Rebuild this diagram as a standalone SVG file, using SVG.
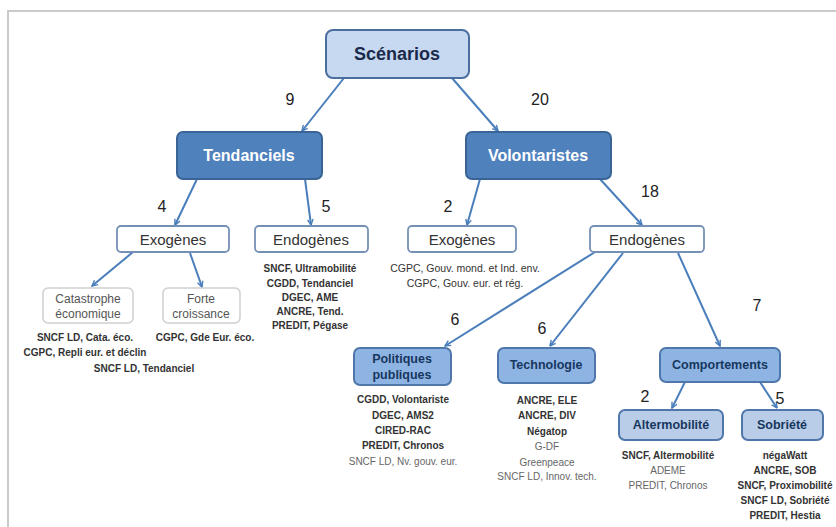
<svg xmlns="http://www.w3.org/2000/svg" width="836" height="527" viewBox="0 0 836 527">
<defs>
<marker id="ah" viewBox="0 0 10 10" refX="9" refY="5" markerWidth="7" markerHeight="7" orient="auto" markerUnits="userSpaceOnUse">
<path d="M1,1 L9,5 L1,9" fill="none" stroke="#4a7ebb" stroke-width="2"/>
</marker>
<style>
text{font-family:"Liberation Sans",Arial,sans-serif;text-anchor:middle;dominant-baseline:central}
.conn line{stroke:#4a7ebb;stroke-width:2;marker-end:url(#ah)}
.top{fill:#c6d9f1;stroke:#4a6f9e;stroke-width:2}
.mid{fill:#4f81bd;stroke:#3a6496;stroke-width:2}
.wb{fill:#fff;stroke:#7590b5;stroke-width:1.8}
.gb{fill:#fff;stroke:#cfcfcf;stroke-width:1.5}
.l4{fill:#8eb4e3;stroke:#4f77aa;stroke-width:2}
.l5{fill:#b9cde8;stroke:#4f77aa;stroke-width:2}
.num{font-size:16px;fill:#222}
.t1{font-size:18px;font-weight:bold;fill:#1b2a4a}
.t2{font-size:16px;font-weight:bold;fill:#fff}
.t3{font-size:15px;fill:#333}
.t4{font-size:12px;fill:#555}
.t5{font-size:12.5px;font-weight:bold;fill:#17375e}
.lb{font-size:10px;font-weight:bold;fill:#333}
.lr{font-size:10px;fill:#666}
.ln{font-size:10.5px;fill:#333}
</style>
</defs>
<rect width="836" height="527" fill="#fff"/>
<path d="M8,527 V11 H836" fill="none" stroke="#cacaca" stroke-width="2"/>

<g id="connectors" class="conn">
<line x1="344" y1="78" x2="302" y2="131"/>
<line x1="452" y1="78" x2="498" y2="131"/>
<line x1="197" y1="179" x2="175" y2="225"/>
<line x1="305" y1="179" x2="311" y2="225"/>
<line x1="480" y1="179" x2="467" y2="225"/>
<line x1="600" y1="179" x2="642" y2="225"/>
<line x1="133" y1="252" x2="92" y2="286"/>
<line x1="190" y1="253" x2="202" y2="287"/>
<line x1="595" y1="252" x2="445" y2="346"/>
<line x1="623" y1="253" x2="550" y2="346"/>
<line x1="678" y1="253" x2="720" y2="346"/>
<line x1="685" y1="382" x2="672" y2="408"/>
<line x1="760" y1="382" x2="777" y2="408"/>
</g>

<g id="labels">
<text class="num" x="290" y="99">9</text>
<text class="num" x="540" y="99">20</text>
<text class="num" x="162" y="206">4</text>
<text class="num" x="326" y="206">5</text>
<text class="num" x="448" y="206">2</text>
<text class="num" x="650" y="191">18</text>
<text class="num" x="455" y="319">6</text>
<text class="num" x="542" y="328">6</text>
<text class="num" x="757" y="305">7</text>
<text class="num" x="645" y="396">2</text>
<text class="num" x="780" y="398">5</text>
</g>

<g id="scenarios"><rect class="top" x="326" y="30" width="143" height="48" rx="7"/><text class="t1" x="397" y="54">Scénarios</text></g>
<g id="tendanciels"><rect class="mid" x="177" y="132" width="145" height="47" rx="6"/><text class="t2" x="249" y="155">Tendanciels</text></g>
<g id="volontaristes"><rect class="mid" x="466" y="132" width="145" height="47" rx="6"/><text class="t2" x="538" y="155">Volontaristes</text></g>

<g id="exo-t"><rect class="wb" x="117" y="226" width="112" height="26" rx="4"/><text class="t3" x="173" y="239">Exogènes</text></g>
<g id="endo-t"><rect class="wb" x="255" y="226" width="113" height="26" rx="4"/><text class="t3" x="311" y="239">Endogènes</text></g>
<g id="exo-v"><rect class="wb" x="408" y="226" width="108" height="26" rx="4"/><text class="t3" x="462" y="239">Exogènes</text></g>
<g id="endo-v"><rect class="wb" x="590" y="226" width="114" height="26" rx="4"/><text class="t3" x="647" y="239">Endogènes</text></g>

<g id="catastrophe"><rect class="gb" x="43" y="288" width="90" height="35" rx="5"/><text class="t4" x="88" y="299">Catastrophe</text><text class="t4" x="88" y="314">économique</text></g>
<g id="forte"><rect class="gb" x="163" y="288" width="77" height="35" rx="5"/><text class="t4" x="201" y="299">Forte</text><text class="t4" x="201" y="314">croissance</text></g>

<g id="list-exo-t">
<text class="lb" x="85" y="337">SNCF LD, Cata. éco.</text>
<text class="lb" x="205" y="337">CGPC, Gde Eur. éco.</text>
<text class="lb" x="85" y="352">CGPC, Repli eur. et déclin</text>
<text class="lb" x="144" y="368">SNCF LD, Tendanciel</text>
</g>
<g id="list-endo-t">
<text class="lb" x="310" y="268">SNCF, Ultramobilité</text>
<text class="lb" x="310" y="283">CGDD, Tendanciel</text>
<text class="lb" x="310" y="297">DGEC, AME</text>
<text class="lb" x="310" y="311">ANCRE, Tend.</text>
<text class="lb" x="310" y="325">PREDIT, Pégase</text>
</g>
<g id="list-exo-v">
<text class="ln" x="465" y="268">CGPC, Gouv. mond. et Ind. env.</text>
<text class="ln" x="465" y="283">CGPC, Gouv. eur. et rég.</text>
</g>

<g id="politiques"><rect class="l4" x="354" y="348" width="97" height="37" rx="6"/><text class="t5" x="402" y="359">Politiques</text><text class="t5" x="402" y="375">publiques</text></g>
<g id="technologie"><rect class="l4" x="498" y="348" width="97" height="35" rx="6"/><text class="t5" x="546" y="365">Technologie</text></g>
<g id="comportements"><rect class="l4" x="660" y="348" width="120" height="34" rx="6"/><text class="t5" x="720" y="365">Comportements</text></g>
<g id="altermobilite"><rect class="l5" x="619" y="410" width="104" height="30" rx="6"/><text class="t5" x="671" y="425">Altermobilité</text></g>
<g id="sobriete"><rect class="l5" x="742" y="410" width="81" height="30" rx="6"/><text class="t5" x="782" y="425">Sobriété</text></g>

<g id="list-politiques">
<text class="lb" x="403" y="399">CGDD, Volontariste</text>
<text class="lb" x="403" y="415">DGEC, AMS2</text>
<text class="lb" x="403" y="430">CIRED-RAC</text>
<text class="lb" x="403" y="445">PREDIT, Chronos</text>
<text class="lr" x="403" y="461">SNCF LD, Nv. gouv. eur.</text>
</g>
<g id="list-technologie">
<text class="lb" x="547" y="400">ANCRE, ELE</text>
<text class="lb" x="547" y="415">ANCRE, DIV</text>
<text class="lb" x="547" y="431">Négatop</text>
<text class="lr" x="547" y="446">G-DF</text>
<text class="lr" x="547" y="462">Greenpeace</text>
<text class="lr" x="547" y="476">SNCF LD, Innov. tech.</text>
</g>
<g id="list-altermobilite">
<text class="lb" x="668" y="455">SNCF, Altermobilité</text>
<text class="lr" x="668" y="470">ADEME</text>
<text class="lr" x="668" y="485">PREDIT, Chronos</text>
</g>
<g id="list-sobriete">
<text class="lb" x="785" y="455">négaWatt</text>
<text class="lb" x="785" y="470">ANCRE, SOB</text>
<text class="lb" x="785" y="485">SNCF, Proximobilité</text>
<text class="lb" x="785" y="500">SNCF LD, Sobriété</text>
<text class="lb" x="785" y="515">PREDIT, Hestia</text>
</g>
</svg>
